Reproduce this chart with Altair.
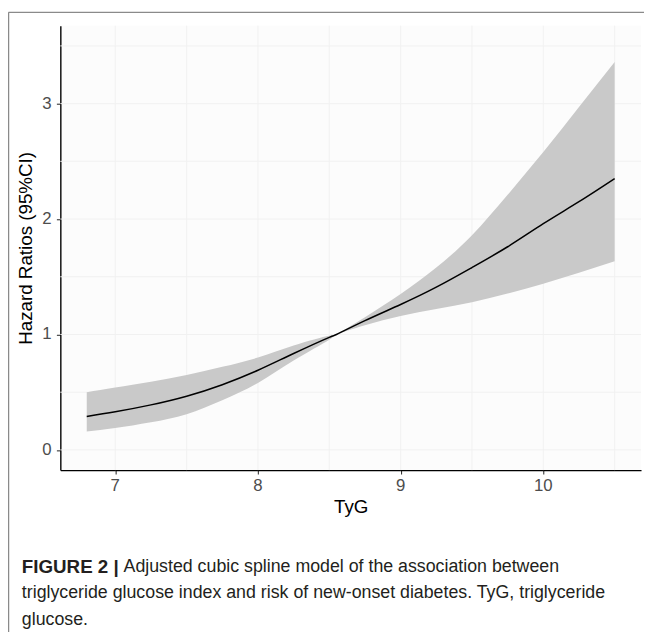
import altair as alt
import pandas as pd

# ---- data ----
tyg = [6.8, 7.0, 7.25, 7.5, 7.75, 8.0, 8.25, 8.5, 8.55, 8.75, 9.0, 9.25, 9.5, 9.75, 10.0, 10.25, 10.5]
hr = [0.29, 0.33, 0.39, 0.465, 0.565, 0.69, 0.835, 0.975, 1.0, 1.12, 1.26, 1.41, 1.58, 1.76, 1.96, 2.15, 2.35]
upper = [0.50, 0.54, 0.59, 0.65, 0.72, 0.80, 0.905, 0.99, 1.0, 1.15, 1.35, 1.58, 1.86, 2.21, 2.58, 2.97, 3.36]
lower = [0.16, 0.19, 0.24, 0.31, 0.43, 0.58, 0.775, 0.955, 1.0, 1.08, 1.16, 1.22, 1.28, 1.355, 1.44, 1.535, 1.635]

x_ticks = [7, 8, 9, 10]
y_ticks = [0, 1, 2, 3]
x_grid = [7, 7.5, 8, 8.5, 9, 9.5, 10, 10.5]
y_grid = [0, 0.5, 1, 1.5, 2, 2.5, 3, 3.5]

x_title = "TyG"
y_title = "Hazard Ratios (95%CI)"
cap_bold = "FIGURE 2 |"
cap_line1 = "Adjusted cubic spline model of the association between"
cap_line2 = "triglyceride glucose index and risk of new-onset diabetes. TyG, triglyceride"
cap_line3 = "glucose."

FONT = "Liberation Sans"

df = pd.DataFrame({"tyg": tyg, "hr": hr, "lo": lower, "hi": upper})

x_scale = alt.Scale(domain=[6.615, 10.685], nice=False, zero=False)
y_scale = alt.Scale(domain=[-0.175, 3.675], nice=False, zero=False)

x_axis = alt.Axis(values=x_ticks, title=x_title, labels=False, titlePadding=23)
y_axis = alt.Axis(values=y_ticks, title=y_title, labels=False, titlePadding=21)

gx = alt.Chart(pd.DataFrame({"g": x_grid})).mark_rule(color="#F1F1F1", strokeWidth=1).encode(
    x=alt.X("g:Q", scale=x_scale, axis=x_axis)
)
gy = alt.Chart(pd.DataFrame({"g": y_grid})).mark_rule(color="#F1F1F1", strokeWidth=1).encode(
    y=alt.Y("g:Q", scale=y_scale, axis=y_axis)
)

band = alt.Chart(df).mark_area(color="#C9C9C9", opacity=1, interpolate="natural").encode(
    x=alt.X("tyg:Q", scale=x_scale, axis=x_axis),
    y=alt.Y("lo:Q", scale=y_scale, axis=y_axis),
    y2="hi:Q",
)
line = alt.Chart(df).mark_line(color="black", strokeWidth=1.5, interpolate="natural").encode(
    x=alt.X("tyg:Q", scale=x_scale, axis=x_axis),
    y=alt.Y("hr:Q", scale=y_scale, axis=y_axis),
)

# tick labels drawn through the scales
lab = dict(font=FONT, fontSize=17, color="#4D4D4D")
xlab = alt.Chart(pd.DataFrame({"t": x_ticks})).mark_text(align="center", baseline="top", **lab).encode(
    x=alt.X("t:Q", scale=x_scale, axis=x_axis), y=alt.value(458), text=alt.Text("t:Q", format="d")
)
ylab = alt.Chart(pd.DataFrame({"t": y_ticks})).mark_text(align="right", baseline="middle", **lab).encode(
    y=alt.Y("t:Q", scale=y_scale, axis=y_axis), x=alt.value(-9), text=alt.Text("t:Q", format="d")
)

one = pd.DataFrame({"a": [0]})
border_left = alt.Chart(one).mark_rule(color="#8A8A8A", strokeWidth=1.5).encode(
    x=alt.value(-52.5), y=alt.value(-13.5), y2=alt.value(650)
)
border_top = alt.Chart(one).mark_rule(color="#8A8A8A", strokeWidth=1.5).encode(
    x=alt.value(-52.5), x2=alt.value(620), y=alt.value(-13.5)
)

txt = dict(font=FONT, color="#231F20", align="left", baseline="middle")
t_bold = alt.Chart(one).mark_text(text=cap_bold, fontWeight="bold", fontSize=19, **txt).encode(
    x=alt.value(-39), y=alt.value(548)
)
t_1 = alt.Chart(one).mark_text(text=cap_line1, fontSize=18, **txt).encode(x=alt.value(64), y=alt.value(548))
t_2 = alt.Chart(one).mark_text(text=cap_line2, fontSize=18, **txt).encode(x=alt.value(-39), y=alt.value(575))
t_3 = alt.Chart(one).mark_text(text=cap_line3, fontSize=18, **txt).encode(x=alt.value(-39), y=alt.value(602))

chart = alt.layer(
    gx, gy, band, line, xlab, ylab, border_left, border_top, t_bold, t_1, t_2, t_3
).properties(
    width=588, height=450,
    autosize=alt.AutoSizeParams(type="none"),
    padding={"left": 53, "top": 14, "right": 3, "bottom": 160},
    background="white",
).configure_view(fill="#FCFCFC", stroke=None).configure_axis(
    grid=False, domainColor="black", domainWidth=1.4,
    tickColor="#333333", tickSize=4, tickWidth=1.1,
    titleFont=FONT, titleFontSize=19, titleFontWeight="normal", titleColor="black",
)

chart.save("out.html", embed_options={"renderer": "svg", "actions": False})
